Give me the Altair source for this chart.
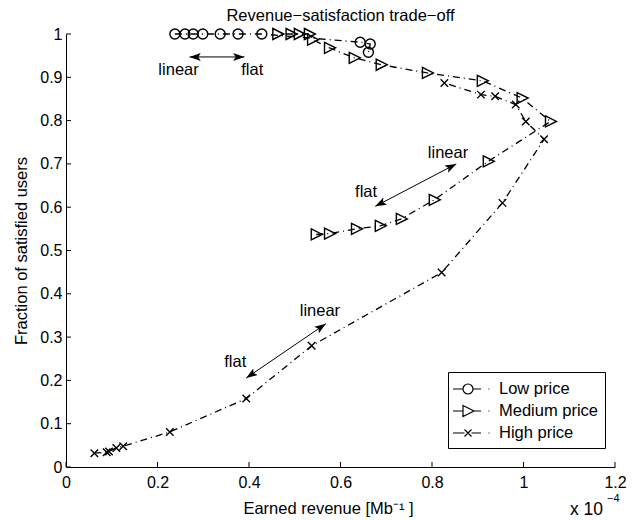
import math
import altair as alt
import pandas as pd

FONT = "Liberation Sans"

# ---------------- data (x in units of 1e-4 Mb^-1) ----------------
series_names = ["Low price", "Medium price", "High price"]

low_x = [0.238, 0.260, 0.278, 0.299, 0.337, 0.376, 0.428, 0.643, 0.665, 0.661]
low_y = [1.0, 1.0, 1.0, 1.0, 1.0, 1.0, 1.0, 0.981, 0.977, 0.958]

med_x = [0.547, 0.576, 0.635, 0.687, 0.733, 0.805, 0.923, 1.059, 0.997, 0.910,
         0.790, 0.689, 0.630, 0.576, 0.539, 0.532, 0.510, 0.492, 0.463]
med_y = [0.537, 0.539, 0.550, 0.557, 0.573, 0.617, 0.706, 0.798, 0.852, 0.892,
         0.910, 0.929, 0.945, 0.968, 0.987, 1.0, 1.0, 1.0, 1.0]

high_x = [0.062, 0.089, 0.094, 0.110, 0.125, 0.227, 0.394, 0.537, 0.821, 0.954,
          1.045, 1.005, 0.983, 0.938, 0.907, 0.827]
high_y = [0.032, 0.034, 0.036, 0.044, 0.048, 0.081, 0.158, 0.280, 0.449, 0.610,
          0.757, 0.798, 0.837, 0.856, 0.860, 0.887]

x_ticks = [0, 0.2, 0.4, 0.6, 0.8, 1.0, 1.2]
y_ticks = [0, 0.1, 0.2, 0.3, 0.4, 0.5, 0.6, 0.7, 0.8, 0.9, 1.0]

# double-headed annotation arrows
arrow_x1 = [0.270, 0.676, 0.394]
arrow_y1 = [0.947, 0.602, 0.2055]
arrow_x2 = [0.390, 0.853, 0.568]
arrow_y2 = [0.947, 0.700, 0.331]

label_text = ["linear", "flat", "linear", "flat", "linear", "flat"]
label_x = [0.246, 0.407, 0.835, 0.656, 0.555, 0.370]
label_y = [0.906, 0.906, 0.714, 0.623, 0.349, 0.230]

title_text = "Revenue\u2212satisfaction trade\u2212off"
x_title = "Earned revenue [Mb\u207b\u00b9 ]"
y_title = "Fraction of satisfied users"

# ---------------- tables ----------------
rows = []
for name, xs_, ys_ in zip(series_names, [low_x, med_x, high_x], [low_y, med_y, high_y]):
    for i, (xv, yv) in enumerate(zip(xs_, ys_)):
        rows.append({"series": name, "idx": i, "x": xv, "y": yv})
df = pd.DataFrame(rows)

W, H = 549, 433
kx, ky = W / 1.2, H / 1.0

arr_df = pd.DataFrame({"x1": arrow_x1, "y1": arrow_y1, "x2": arrow_x2, "y2": arrow_y2})
head_rows = []
for x1, y1, x2, y2 in zip(arrow_x1, arrow_y1, arrow_x2, arrow_y2):
    a = math.degrees(math.atan2((x2 - x1) * kx, (y2 - y1) * ky)) % 360
    head_rows.append({"x": x2, "y": y2, "angle": a})
    head_rows.append({"x": x1, "y": y1, "angle": (a + 180) % 360})
head_df = pd.DataFrame(head_rows)
lab_df = pd.DataFrame({"t": label_text, "x": label_x, "y": label_y})

xs = alt.Scale(domain=[0, 1.2], nice=False, zero=False)
ys = alt.Scale(domain=[0, 1], nice=False, zero=False)

x_axis = alt.Axis(values=x_ticks, format=".1~f", title=x_title, ticks=False, grid=False,
                  domainColor="black", domainWidth=1, labelFont=FONT, labelFontSize=16,
                  labelColor="black", labelPadding=7, labelFlush=False, labelOverlap=False,
                  titleFont=FONT, titleFontSize=16.5, titleFontWeight="normal", titleColor="black",
                  titleX=262, titleY=46, titleBaseline="alphabetic", titleAlign="center")
y_axis = alt.Axis(values=y_ticks, format=".1~f", title=y_title, ticks=False, grid=False,
                  domainColor="black", domainWidth=1, labelFont=FONT, labelFontSize=16,
                  labelColor="black", labelPadding=4, labelFlush=False, labelOverlap=False,
                  titleFont=FONT, titleFontSize=16.5, titleFontWeight="normal", titleColor="black",
                  titleAngle=270, titleX=-45, titleY=216.5, titleBaseline="middle", titleAlign="center")


def X(field):
    return alt.X(field, scale=xs, axis=x_axis)


def Y(field):
    return alt.Y(field, scale=ys, axis=y_axis)


base = alt.Chart(df)

lines = base.mark_line(color="black", strokeWidth=1.3, strokeDash=[7, 4, 1, 4]).encode(
    x=X("x:Q"), y=Y("y:Q"), detail="series:N", order="idx:Q",
)

TRI = "M-1,-1.1L1.2,0L-1,1.1Z"
CROSS = "M-0.75,-0.75L0.75,0.75M-0.75,0.75L0.75,-0.75"
points = base.mark_point(filled=False, color="black", strokeWidth=1.4, size=100, opacity=1).encode(
    x=X("x:Q"), y=Y("y:Q"),
    shape=alt.Shape("series:N", scale=alt.Scale(domain=series_names, range=["circle", TRI, CROSS]),
                    legend=None),
)

LEG_LOW = "M-1.5,0L-0.5,0M0.5,0A0.5,0.5,0,1,1,-0.5,0A0.5,0.5,0,1,1,0.5,0M0.5,0L1.3,0M2.05,0L2.15,0"
LEG_MED = "M-1.5,0L-0.5,0M-0.5,-0.55L0.6,0L-0.5,0.55ZM0.6,0L1.3,0M2.05,0L2.15,0"
LEG_HIGH = "M-1.5,0L-0.35,0M-0.35,-0.35L0.35,0.35M-0.35,0.35L0.35,-0.35M0.35,0L1.3,0M2.05,0L2.15,0"
legend_layer = base.transform_filter("false").mark_point(
    filled=False, color="black", strokeWidth=1.2, size=400, opacity=1).encode(
    x=X("x:Q"), y=Y("y:Q"),
    shape=alt.Shape("series:N",
                    scale=alt.Scale(domain=series_names, range=[LEG_LOW, LEG_MED, LEG_HIGH]),
                    legend=alt.Legend(title=None, orient="none", legendX=382, legendY=338,
                                      symbolSize=400, symbolStrokeWidth=1.2,
                                      symbolStrokeColor="black", symbolOpacity=1,
                                      symbolOffset=3, labelOffset=20, rowPadding=2,
                                      padding=6, strokeColor="black", fillColor="white",
                                      cornerRadius=0, labelFont=FONT, labelFontSize=16.5,
                                      labelColor="black", labelLimit=300)),
)

xt_df = pd.DataFrame({"x": x_ticks})
yt_df = pd.DataFrame({"y": y_ticks})
xtick_marks = alt.Chart(xt_df).mark_rule(color="black", strokeWidth=1).encode(
    x=X("x:Q"), y=alt.value(H), y2=alt.value(H - 5))
ytick_marks = alt.Chart(yt_df).mark_rule(color="black", strokeWidth=1).encode(
    y=Y("y:Q"), x=alt.value(0), x2=alt.value(5))

arrow_lines = alt.Chart(arr_df).mark_rule(color="black", strokeWidth=1).encode(
    x=X("x1:Q"), y=Y("y1:Q"), x2="x2:Q", y2="y2:Q")
HEAD = "M0,0L-0.5,1.4L0,1.1L0.5,1.4Z"
heads = alt.Chart(head_df).mark_point(shape=HEAD, filled=True, color="black", size=256, opacity=1).encode(
    x=X("x:Q"), y=Y("y:Q"), angle=alt.Angle("angle:Q", scale=None))

labels = alt.Chart(lab_df).mark_text(font=FONT, fontSize=16.5, baseline="alphabetic",
                                     align="center", color="black").encode(
    x=X("x:Q"), y=Y("y:Q"), text="t:N")

sci_df = pd.DataFrame({"t": ["x 10"]})
exp_df = pd.DataFrame({"t": ["\u22124"]})
sci = alt.Chart(sci_df).mark_text(font=FONT, fontSize=17.5, baseline="alphabetic", align="left",
                                  color="black").encode(x=alt.value(504), y=alt.value(481), text="t:N")
sci_exp = alt.Chart(exp_df).mark_text(font=FONT, fontSize=11, baseline="alphabetic", align="left",
                                      color="black").encode(x=alt.value(541), y=alt.value(468), text="t:N")

chart = alt.layer(lines, points, legend_layer, xtick_marks, ytick_marks, arrow_lines, heads,
                  labels, sci, sci_exp).resolve_scale(shape="independent").properties(
    width=W, height=H,
    title=alt.TitleParams(title_text, font=FONT, fontSize=16.5, fontWeight="normal",
                          color="black", anchor="middle", offset=1),
    autosize=alt.AutoSizeParams(type="none"),
    padding={"left": 66, "top": 34, "right": 26, "bottom": 53},
    background="white",
).configure_view(stroke=None)

chart.save("out.html", embed_options={"renderer": "svg", "actions": False})
